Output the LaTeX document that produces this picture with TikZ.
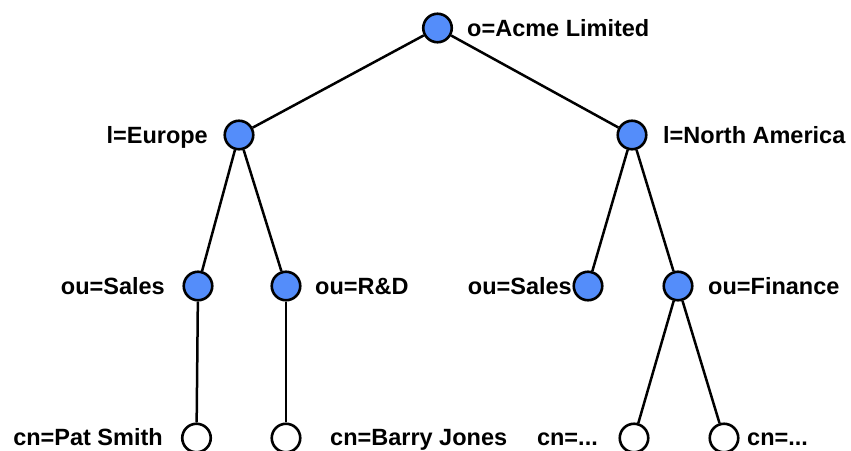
\documentclass[tikz,border=0pt]{standalone}
\usepackage{fontspec}
\setmainfont{Liberation Sans}
\definecolor{nodeblue}{RGB}{84,141,250}
\begin{document}
\begin{tikzpicture}[x=1pt,y=-1pt,
  ent/.style={circle,draw=black,line width=2.6pt,fill=nodeblue,minimum size=28.5pt,inner sep=0pt},
  leaf/.style={ent,fill=white},
  lab/.style={inner sep=0pt,text height=16.8pt,text depth=0pt,font=\fontsize{23.5}{27}\selectfont\bfseries},
  edge/.style={line width=2.5pt,draw=black}]
\useasboundingbox (0,0) rectangle (851,450);
% nodes
\node[ent] (root) at (437.5,28) {};
\node[ent] (eu) at (239,135) {};
\node[ent] (na) at (632,135) {};
\node[ent] (salesl) at (198,286) {};
\node[ent] (rd) at (286,286) {};
\node[ent] (salesr) at (588,286) {};
\node[ent] (fin) at (678,286) {};
\node[leaf] (pat) at (196.5,438) {};
\node[leaf] (barry) at (286,438) {};
\node[leaf] (cn1) at (634,438) {};
\node[leaf] (cn2) at (724,438) {};
% labels
\node[lab,anchor=west] (lroot) at (467,28) {o=Acme Limited};
\node[lab,anchor=east] (leu) at (208,135) {l=Europe};
\node[lab,anchor=west] (lna) at (663,135) {l=North America};
\node[lab,anchor=east] (lsalesl) at (165,286) {ou=Sales};
\node[lab,anchor=west] (lrd) at (315,286) {ou=R\&D};
\node[lab,anchor=east] (lsalesr) at (572,286) {ou=Sales};
\node[lab,anchor=west] (lfin) at (708,286) {ou=Finance};
\node[lab,anchor=east] (lpat) at (163,437) {cn=Pat Smith};
\node[lab,anchor=west] (lbarry) at (330,437) {cn=Barry Jones};
\node[lab,anchor=east] (lcn1) at (598,437) {cn=...};
\node[lab,anchor=west] (lcn2) at (747,437) {cn=...};
% edges between circle borders
\draw[edge] (root) -- (eu);
\draw[edge] (root) -- (na);
\draw[edge] (eu) -- (salesl);
\draw[edge] (eu) -- (rd);
\draw[edge] (na) -- (salesr);
\draw[edge] (na) -- (fin);
\draw[edge] (salesl) -- (pat);
\draw[edge] (rd) -- (barry);
\draw[edge] (fin) -- (cn1);
\draw[edge] (fin) -- (cn2);
\end{tikzpicture}
\end{document}
